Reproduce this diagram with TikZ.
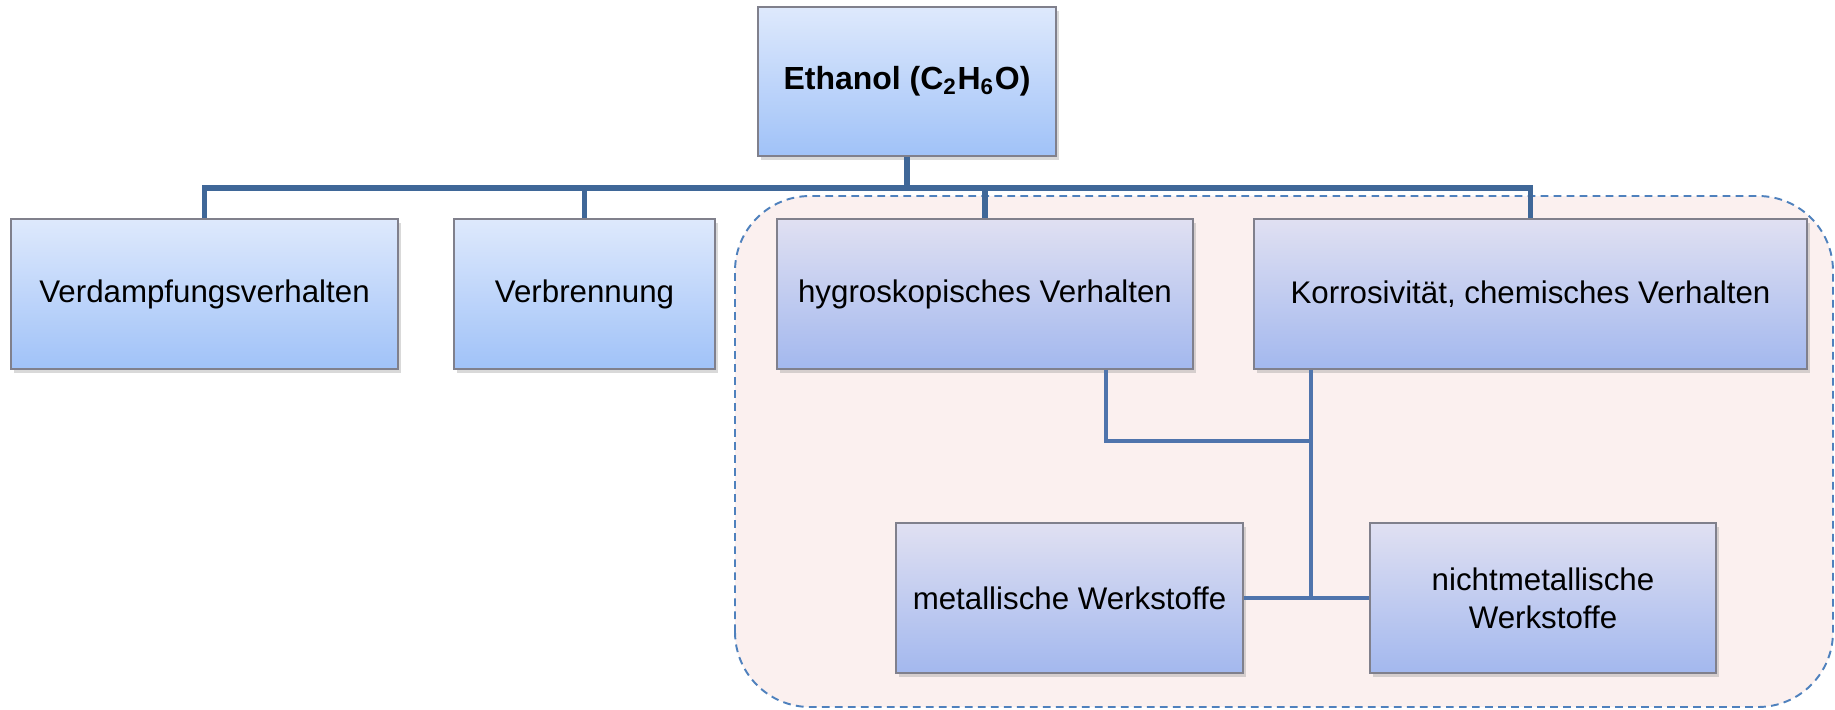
\documentclass[tikz,border=0pt]{standalone}
\usepackage{fontspec}
\setmainfont{Liberation Sans}
\usepackage{xcolor}
\usepackage{tikz}
\usetikzlibrary{positioning, shadows}
\definecolor{linkblue}{RGB}{63,103,152}
\definecolor{sublink}{RGB}{79,116,172}
\definecolor{dashblue}{RGB}{79,129,189}
\definecolor{zonepink}{RGB}{251,240,239}
\definecolor{boxtop}{RGB}{222,233,252}
\definecolor{boxbottom}{RGB}{160,194,248}
\definecolor{zonetop}{RGB}{224,224,242}
\definecolor{zonebottom}{RGB}{163,184,238}
\definecolor{boxedge}{RGB}{128,128,140}

\begin{document}
\begin{tikzpicture}[
    topic/.style={rectangle, draw=boxedge, thin, top color=boxtop, bottom color=boxbottom, align=center, minimum height=1.50cm, inner sep=2pt, font=\fontsize{8.9}{10.9}\selectfont, drop shadow={opacity=0.3, shadow xshift=0.03cm, shadow yshift=-0.04cm}},
    zonetopic/.style={topic, top color=zonetop, bottom color=zonebottom},
    busline/.style={draw=linkblue, line width=1.45pt},
    subline/.style={draw=sublink, line width=1.15pt},
    zone/.style={draw=dashblue, fill=zonepink, line width=0.55pt, dash pattern=on 2.2pt off 1.5pt, rounded corners=0.75cm}
]
\useasboundingbox (0,0) rectangle (18.35,7.09);

\draw[zone] (7.35,0.02) rectangle (18.33,5.13);

\node[topic, minimum width=2.98cm, minimum height=1.49cm, font=\fontsize{9.1}{11}\selectfont\bfseries] (ethanol) at (9.07,6.275) {Ethanol (C\textsubscript{2}H\textsubscript{6}O)};

\node[topic, minimum width=3.87cm] (verdampf) at (2.045,4.15) {Verdampfungsverhalten};
\node[topic, minimum width=2.61cm] (verbrennung) at (5.845,4.15) {Verbrennung};
\node[zonetopic, minimum width=4.16cm] (hygro) at (9.85,4.15) {hygroskopisches Verhalten};
\node[zonetopic, minimum width=5.53cm] (korrosion) at (15.305,4.15) {Korrosivität, chemisches Verhalten};

\node[zonetopic, minimum width=3.47cm] (metall) at (10.695,1.11) {metallische Werkstoffe};
\node[zonetopic, minimum width=3.46cm] (nichtmetall) at (15.43,1.11) {nichtmetallische\\Werkstoffe};

\coordinate (bus) at (0,5.21);
\coordinate (hygrodrop) at (11.06,2.68);
\coordinate (korrdrop) at (13.11,1.11);

\draw[busline] (ethanol.south) -- (ethanol.south |- bus);
\draw[busline] (verdampf.north) |- (korrosion.north |- bus) -- (korrosion.north);
\foreach \n in {verbrennung, hygro}
    \draw[busline] (\n.north) -- (\n.north |- bus);

\draw[subline] (hygro.south -| hygrodrop) -- (hygrodrop) -- (hygrodrop -| korrdrop);
\draw[subline] (korrosion.south -| korrdrop) -- (korrdrop);
\draw[subline] (metall.east) -- (nichtmetall.west);
\end{tikzpicture}
\end{document}
